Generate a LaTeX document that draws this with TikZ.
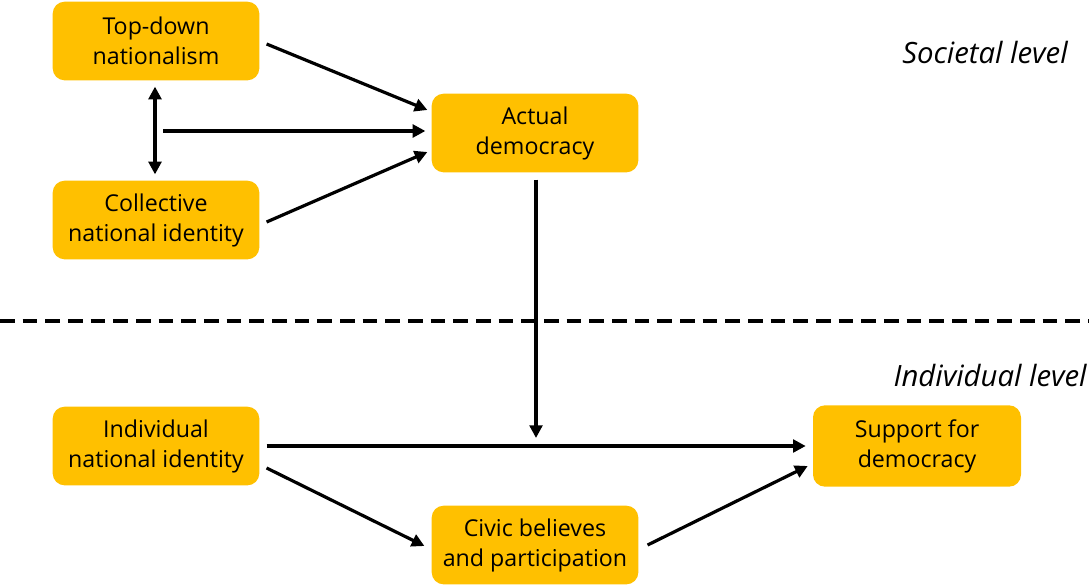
\documentclass[tikz,border=0pt]{standalone}
\usepackage{fontspec}
\setmainfont{Open Sans}
\usetikzlibrary{arrows.meta,calc}
\definecolor{boxorange}{HTML}{FFC000}
\tikzset{
    box/.style={fill=boxorange, rounded corners=9pt, minimum width=155pt, minimum height=59pt,
        align=center, font=\fontsize{17.4}{22.5}\selectfont, inner sep=2pt},
    arr/.style={line width=2.4pt, -{Triangle[length=9.5pt,width=9.5pt]}},
    levellabel/.style={anchor=east, font=\fontsize{22}{24}\selectfont\itshape, inner sep=0pt}
}
\begin{document}
\begin{tikzpicture}[x=0.75pt,y=-0.75pt]
    \useasboundingbox (0,0) rectangle (1089,586);
    % societal level
    \node[box] (td) at (156,41) {Top-down\\nationalism};
    \node[box] (col) at (156,220) {Collective\\national identity};
    \node[box] (ad) at (535,133) {Actual\\democracy};
    % individual level
    \node[box] (ind) at (156,446) {Individual\\national identity};
    \node[box] (civ) at (535,545) {Civic believes\\and participation};
    \node[box, minimum width=156pt, minimum height=61pt] (sup) at (917,446) {Support for\\democracy};
    \node[levellabel] (soc) at (1068,52) {Societal level};
    \node[levellabel] (indl) at (1087,375) {Individual level};
    \coordinate (split) at (163,131);
    \coordinate (drop) at (536,438);
    \draw[line width=2.3pt, dash pattern=on 11pt off 6pt] (0,321) -- (1089,321);
    % arrows
    \draw[arr] ($(td.east)+(7,3)$) -- ($(ad.west)+(-4,-23)$);
    \draw[line width=2.4pt, {Triangle[length=9.5pt,width=9.5pt]}-{Triangle[length=9.5pt,width=9.5pt]}] ($(td.south)+(-1,6)$) -- ($(col.north)+(-1,-6)$);
    \draw[arr] (split) -- ($(ad.west)+(-6,-2)$);
    \draw[arr] ($(col.east)+(7,2)$) -- ($(ad.west)+(-4,19)$);
    \draw[arr] ($(ad.south)+(1,7)$) -- (drop);
    \draw[arr] ($(ind.east)+(7,0)$) -- ($(sup.west)+(-7,0)$);
    \draw[arr] ($(ind.east)+(7,22)$) -- ($(civ.west)+(-7,1)$);
    \draw[arr] ($(civ.east)+(9,0)$) -- ($(sup.west)+(-5,20)$);
\end{tikzpicture}
\end{document}
